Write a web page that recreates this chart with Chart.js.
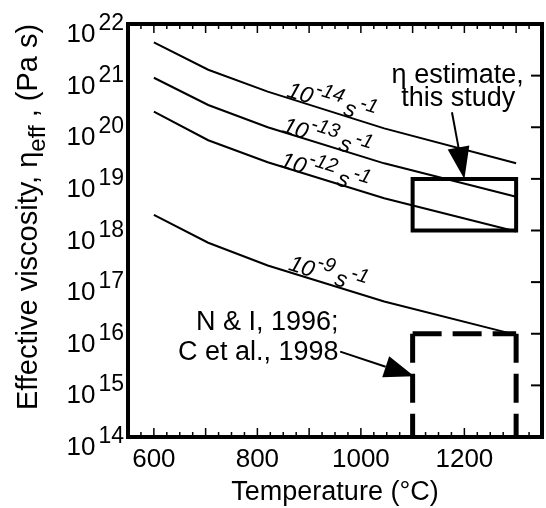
<!DOCTYPE html>
<html>
<head>
<meta charset="utf-8">
<script src="https://cdn.jsdelivr.net/npm/chart.js@4.4.1/dist/chart.umd.min.js"></script>
<style>
  html, body { margin: 0; padding: 0; background: #fff; }
  #wrap { width: 546px; height: 508px; }
</style>
</head>
<body>
<div id="wrap"><canvas id="chart" width="546" height="508"></canvas></div>
<script>
const FONT = '"Liberation Sans", Arial, sans-serif';

// curves: effective viscosity vs temperature for 4 strain rates
const temps = [600, 705, 820, 1045, 1300];
const eta14 = [4.4e21, 1.3e21, 4.9e20, 9.5e19, 2.0e19];
const eta13 = [9.1e20, 2.7e20, 1.0e20, 2.0e19, 4.5e18];
const eta12 = [2.0e20, 5.6e19, 2.1e19, 4.2e18, 9.6e17];
const eta9  = [2.0e18, 5.8e17, 2.1e17, 4.2e16, 9.5e15];

// estimate box (this study)
const boxT   = [1100, 1100, 1300, 1300, 1100];
const boxEta = [1e18, 1e19, 1e19, 1e18, 1e18];

// dashed box (N & I 1996; C et al. 1998)
const prevLeftT   = [1100, 1100];
const prevLeftEta = [1e16, 1e14];
const prevTopT    = [1100, 1300];
const prevTopEta  = [1e16, 1e16];
const prevRightT   = [1300, 1300];
const prevRightEta = [1e16, 1e14];

// axes
const xTickLabels = [600, 800, 1000, 1200];
const yTickExps = [14, 15, 16, 17, 18, 19, 20, 21, 22];

// strain rate labels on curves
const rateLabels = ['-14', '-13', '-12', '-9'];
const rateLabelT = [855, 846, 842, 858];
const rateLabelEta = [4.0e20, 8.3e19, 1.75e19, 1.75e17];

function pts(xs, ys) {
  return xs.map((x, i) => ({ x: x, y: ys[i] }));
}

function curve(ys) {
  return { data: pts(temps, ys), borderColor: '#000', borderWidth: 2, pointRadius: 0, tension: 0 };
}

function dashed(xs, ys) {
  return { data: pts(xs, ys), borderColor: '#000', borderWidth: 5, pointRadius: 0, borderDash: [29, 11] };
}

function arrow(ctx, x1, y1, x2, y2, len, half) {
  const a = Math.atan2(y2 - y1, x2 - x1);
  const bx = x2 - len * Math.cos(a), by = y2 - len * Math.sin(a);
  ctx.beginPath();
  ctx.moveTo(x1, y1);
  ctx.lineTo(bx, by);
  ctx.lineWidth = 2;
  ctx.stroke();
  ctx.beginPath();
  ctx.moveTo(x2, y2);
  ctx.lineTo(bx + half * Math.sin(a), by - half * Math.cos(a));
  ctx.lineTo(bx - half * Math.sin(a), by + half * Math.cos(a));
  ctx.closePath();
  ctx.fill();
}

const decorations = {
  id: 'decorations',
  afterDraw(chart) {
    const ctx = chart.ctx;
    const a = chart.chartArea;
    const xs = chart.scales.x, ys = chart.scales.y;
    ctx.save();
    ctx.strokeStyle = '#000';
    ctx.fillStyle = '#000';

    // frame
    ctx.lineWidth = 4;
    ctx.strokeRect(a.left, a.top, a.right - a.left, a.bottom - a.top);

    // inward ticks on top and bottom, every 25 with longer ones every 100
    ctx.lineWidth = 1.5;
    for (let t = 575; t < 1350; t += 25) {
      const px = xs.getPixelForValue(t);
      const len = t % 100 === 0 ? 9 : 5;
      ctx.beginPath();
      ctx.moveTo(px, a.top);
      ctx.lineTo(px, a.top + len);
      ctx.moveTo(px, a.bottom);
      ctx.lineTo(px, a.bottom - len);
      ctx.stroke();
    }
    // right axis ticks
    ctx.lineWidth = 2;
    yTickExps.forEach(e => {
      const py = ys.getPixelForValue(Math.pow(10, e));
      ctx.beginPath();
      ctx.moveTo(a.right, py);
      ctx.lineTo(a.right - 11, py);
      ctx.stroke();
    });

    // y tick labels 10^n
    ctx.textAlign = 'left';
    ctx.textBaseline = 'alphabetic';
    yTickExps.forEach(e => {
      const py = ys.getPixelForValue(Math.pow(10, e));
      ctx.font = '23px ' + FONT;
      const ew = ctx.measureText(String(e)).width;
      ctx.font = '26px ' + FONT;
      const bw = ctx.measureText('10').width;
      const right = 124;
      ctx.fillText('10', right - ew - 3 - bw, py + 18);
      ctx.font = '23px ' + FONT;
      ctx.fillText(String(e), right - ew, py + 6);
    });

    // x title
    ctx.font = '27px ' + FONT;
    ctx.textAlign = 'center';
    ctx.fillText('Temperature (\u00B0C)', (a.left + a.right) / 2, 500);

    // y title with subscript
    ctx.save();
    ctx.translate(37, 217);
    ctx.rotate(-Math.PI / 2);
    ctx.textAlign = 'left';
    const p1 = 'Effective viscosity, \u03B7', p2 = 'eff', p3 = ' , (Pa s)';
    ctx.font = '29px ' + FONT;
    const w1 = ctx.measureText(p1).width, w3 = ctx.measureText(p3).width;
    ctx.font = '24px ' + FONT;
    const w2 = ctx.measureText(p2).width;
    let x0 = -(w1 + w2 + w3) / 2;
    ctx.font = '29px ' + FONT;
    ctx.fillText(p1, x0, 0);
    ctx.font = '24px ' + FONT;
    ctx.fillText(p2, x0 + w1, 8);
    ctx.font = '29px ' + FONT;
    ctx.fillText(p3, x0 + w1 + w2, 0);
    ctx.restore();

    // strain rate labels along the curves
    rateLabels.forEach((r, i) => {
      const px = xs.getPixelForValue(rateLabelT[i]);
      const py = ys.getPixelForValue(rateLabelEta[i]);
      ctx.save();
      ctx.translate(px, py);
      ctx.rotate(18 * Math.PI / 180);
      ctx.textAlign = 'left';
      ctx.font = 'italic 23px ' + FONT;
      const bw = ctx.measureText('10').width;
      ctx.fillText('10', 0, 0);
      ctx.font = 'italic 20px ' + FONT;
      const rw = ctx.measureText(r).width;
      ctx.fillText(r, bw + 1, -11);
      ctx.font = 'italic 23px ' + FONT;
      const sw = ctx.measureText('s').width;
      ctx.fillText('s', bw + rw + 5, 0);
      ctx.font = 'italic 20px ' + FONT;
      ctx.fillText('-1', bw + rw + sw + 7, -11);
      ctx.restore();
    });

    // annotations
    ctx.font = '27px ' + FONT;
    ctx.textAlign = 'center';
    ctx.fillText('\u03B7 estimate,', xs.getPixelForValue(1187), ys.getPixelForValue(7.2e20));
    ctx.fillText('this study', xs.getPixelForValue(1188), ys.getPixelForValue(2.6e20));
    ctx.textAlign = 'right';
    ctx.fillText('N & I, 1996;', xs.getPixelForValue(957), ys.getPixelForValue(1.2e16));
    ctx.fillText('C et al., 1998', xs.getPixelForValue(957), ys.getPixelForValue(3.1e15));

    arrow(ctx, xs.getPixelForValue(1176), ys.getPixelForValue(1.95e20),
      xs.getPixelForValue(1200), ys.getPixelForValue(1e19), 32, 11);
    arrow(ctx, xs.getPixelForValue(960), ys.getPixelForValue(4.5e15),
      xs.getPixelForValue(1103), ys.getPixelForValue(1.5e15), 30, 11);

    ctx.restore();
  }
};

new Chart(document.getElementById('chart'), {
  type: 'line',
  data: {
    datasets: [
      curve(eta14),
      curve(eta13),
      curve(eta12),
      curve(eta9),
      { data: pts(boxT, boxEta), borderColor: '#000', borderWidth: 4, pointRadius: 0,
        borderCapStyle: 'square', borderJoinStyle: 'miter' },
      dashed(prevLeftT, prevLeftEta),
      dashed(prevTopT, prevTopEta),
      dashed(prevRightT, prevRightEta)
    ]
  },
  options: {
    responsive: false,
    animation: false,
    layout: { padding: { top: 24, right: 4, left: 0, bottom: 0 } },
    plugins: { legend: { display: false }, tooltip: { enabled: false } },
    scales: {
      x: {
        type: 'linear',
        min: 550,
        max: 1350,
        afterBuildTicks: s => { s.ticks = xTickLabels.map(v => ({ value: v })); },
        afterFit: s => { s.height = 71; },
        grid: { display: false, drawTicks: false },
        border: { display: false },
        ticks: { color: '#000', font: { family: FONT, size: 26 }, padding: 7, maxRotation: 0,
          callback: v => String(v) }
      },
      y: {
        type: 'logarithmic',
        min: 1e14,
        max: 1e22,
        afterFit: s => { s.width = 128; },
        grid: { display: false, drawTicks: false },
        border: { display: false },
        ticks: { display: false }
      }
    }
  },
  plugins: [decorations]
});
</script>
</body>
</html>
